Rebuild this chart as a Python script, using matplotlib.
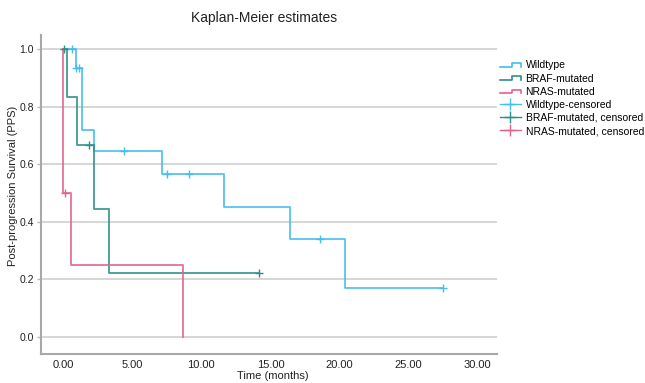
import matplotlib
matplotlib.use("Agg")
import matplotlib.pyplot as plt
from matplotlib.lines import Line2D
from matplotlib.legend_handler import HandlerBase

plt.rcParams['font.family'] = ['Liberation Sans', 'DejaVu Sans']

# ---- data ----
groups = ["Wildtype", "BRAF-mutated", "NRAS-mutated"]
censor_labels = ["Wildtype-censored", "BRAF-mutated, censored", "NRAS-mutated, censored"]

wt_times = [0, 0.92, 1.35, 2.2, 7.15, 11.67, 16.4, 20.4, 27.5]
wt_surv = [1.0, 0.933, 0.718, 0.646, 0.566, 0.452, 0.339, 0.170, 0.170]
wt_cens_t = [0.63, 0.92, 1.18, 4.42, 7.54, 9.13, 18.6, 27.5]
wt_cens_s = [1.0, 0.933, 0.933, 0.646, 0.566, 0.566, 0.339, 0.170]

braf_times = [0, 0.27, 0.99, 2.2, 3.3, 14.15]
braf_surv = [1.0, 0.833, 0.667, 0.444, 0.222, 0.222]
braf_cens_t = [0.05, 1.88, 14.15]
braf_cens_s = [1.0, 0.667, 0.222]

nras_times = [0, 0.02, 0.55, 8.65]
nras_surv = [1.0, 0.5, 0.25, 0.0]
nras_cens_t = [0.1]
nras_cens_s = [0.5]

x_ticks = [0, 5, 10, 15, 20, 25, 30]
y_ticks = [0.0, 0.2, 0.4, 0.6, 0.8, 1.0]

colors = ["#45bdf0", "#2e8f88", "#e0638f"]

fig = plt.figure(figsize=(6.45, 3.83), dpi=100)
ax = fig.add_axes([0.0636, 0.0757, 0.707, 0.834])

series = [(wt_times, wt_surv, wt_cens_t, wt_cens_s),
          (braf_times, braf_surv, braf_cens_t, braf_cens_s),
          (nras_times, nras_surv, nras_cens_t, nras_cens_s)]

for (t, s, ct, cs), c in zip(series, colors):
    ax.step(t, s, where='post', color=c, lw=1.3, alpha=0.9, zorder=3)
    ax.plot(ct, cs, linestyle='none', marker='+', markersize=6, mew=1.0,
            color=c, zorder=4)

ax.set_xlim(-1.6, 31.4)
ax.set_ylim(-0.059, 1.05)
ax.set_xticks(x_ticks)
ax.set_xticklabels([f"{v:.2f}" for v in x_ticks])
ax.set_yticks(y_ticks)
ax.set_yticklabels([f"{v:.1f}" for v in y_ticks])
ax.tick_params(axis='x', length=0, labelsize=8, pad=4, colors='#222222')
ax.tick_params(axis='y', length=3, width=1, color='#bbbbbb', labelsize=7.5,
               pad=2, labelcolor='#222222')
ax.grid(axis='y', color='#d6d6d6', lw=1.4, zorder=0)
ax.set_axisbelow(True)
for sp in ['top', 'right']:
    ax.spines[sp].set_visible(False)
for sp in ['left', 'bottom']:
    ax.spines[sp].set_color('#a8a8a8')
    ax.spines[sp].set_linewidth(1.5)

ax.set_xlabel("Time (months)", fontsize=8, color='#222222', va='center')
ax.xaxis.set_label_coords(0.509, -0.069)
ax.set_ylabel("Post-progression Survival (PPS)", fontsize=8, color='#222222',
              va='center')
ax.yaxis.set_label_coords(-0.061, 0.525)
fig.text(0.41, 0.952, "Kaplan-Meier estimates", ha='center', va='center',
         fontsize=10, color='#222222')


class HandlerStep(HandlerBase):
    def create_artists(self, legend, orig_handle, xdescent, ydescent, width,
                       height, fontsize, trans):
        x0 = -xdescent
        y0 = -ydescent
        lo = y0 + height * 0.2
        hi = y0 + height * 0.7
        xs = [x0, x0 + 0.55 * width, x0 + 0.55 * width, x0 + width, x0 + width]
        ys = [lo, lo, hi, hi, lo]
        ln = Line2D(xs, ys, color=orig_handle.get_color(), lw=1.2, transform=trans)
        return [ln]


step_handles = [Line2D([], [], color=c) for c in colors]
cross_handles = [Line2D([], [], color=c, marker='+', markersize=9, mew=1.0, lw=1.0)
                 for c in colors]
handler_map = {h: HandlerStep() for h in step_handles}
fig.legend(step_handles + cross_handles, groups + censor_labels,
           loc='upper left', bbox_to_anchor=(0.768, 0.853), frameon=False,
           fontsize=7.5, handlelength=2.1, handletextpad=0.4, labelspacing=0.3,
           handler_map=handler_map, borderaxespad=0)

fig.savefig("out.png", dpi=100)
